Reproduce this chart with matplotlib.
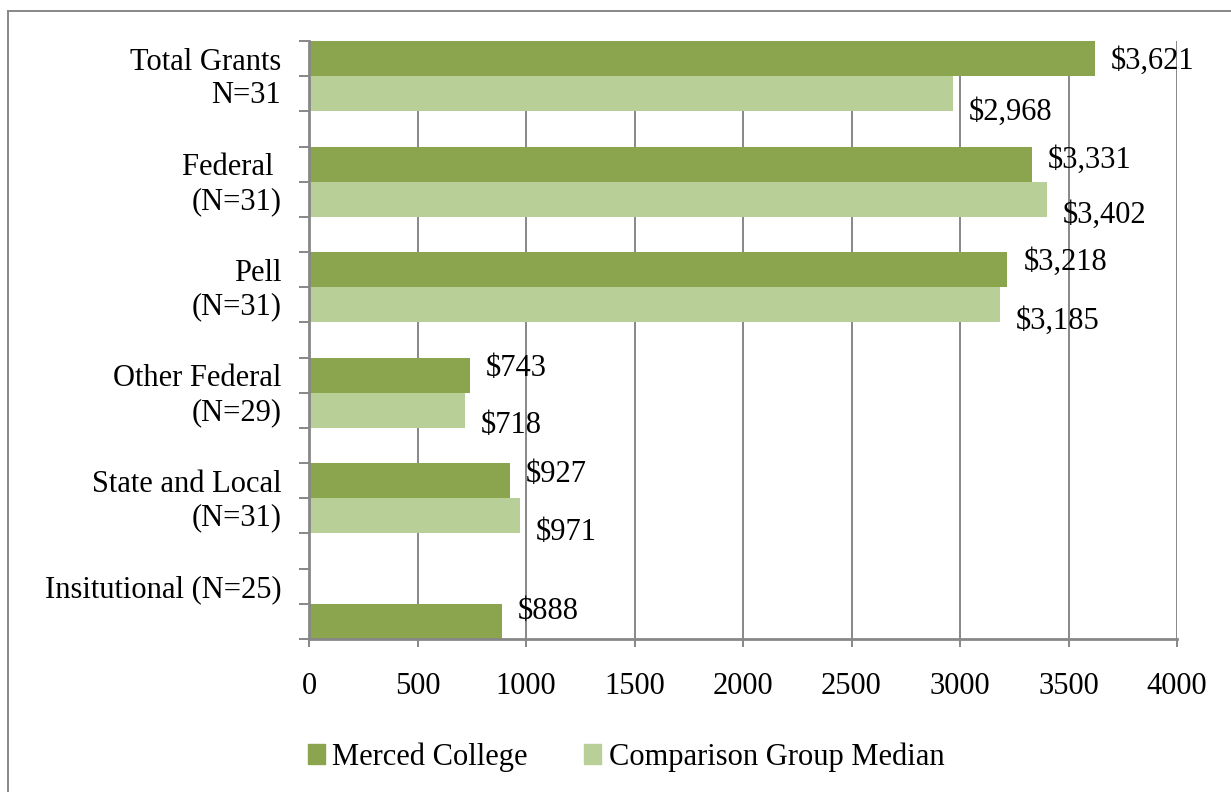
import matplotlib
matplotlib.use("Agg")
import matplotlib.pyplot as plt
from matplotlib.lines import Line2D

plt.rcParams['font.family'] = ['Liberation Serif', 'DejaVu Serif']

# data
categories = ['Total Grants\nN=31', 'Federal \n(N=31)', 'Pell\n(N=31)',
              'Other Federal\n(N=29)', 'State and Local\n(N=31)',
              'Insitutional (N=25)\n']
merced = [3621, 3331, 3218, 743, 927, 888]
comparison = [2968, 3402, 3185, 718, 971, None]
series_names = ['Merced College', 'Comparison Group Median']

# label nudges in pixels (down positive), as Excel placed them
merced_dy = [3, -4, -7, -7, -6, -10]
comp_dy = [19, 16, 17, 15, 17, None]

DARK = '#8AA54E'
LIGHT = '#B8CF97'
GRAY = '#878787'
FS = 22

W, H = 1231, 792
fig = plt.figure(figsize=(W / 100, H / 100), dpi=100)
x0, x1, yt, yb = 309, 1177, 41, 639
ax = fig.add_axes([x0 / W, 1 - yb / H, (x1 - x0) / W, (yb - yt) / H])

# every category takes 2 bar slots + 1 gap slot, last has no gap after it
n = len(categories)
nslots = 3 * n - 1
for i in range(n):
    top = 3 * i
    if comparison[i] is None:
        m_slot = top + 1  # Merced alone sits in the lower slot
    else:
        m_slot = top
        ax.barh(top + 1.5, comparison[i], height=1.0, color=LIGHT,
                edgecolor='none', zorder=3)
        ax.annotate('${:,.0f}'.format(comparison[i]),
                    xy=(comparison[i], top + 1.5), xytext=(16, -comp_dy[i]),
                    textcoords='offset pixels', ha='left', va='center',
                    fontsize=FS, zorder=5)
    ax.barh(m_slot + 0.5, merced[i], height=1.0, color=DARK,
            edgecolor='none', zorder=3)
    ax.annotate('${:,.0f}'.format(merced[i]),
                xy=(merced[i], m_slot + 0.5), xytext=(16, -merced_dy[i]),
                textcoords='offset pixels', ha='left', va='center',
                fontsize=FS, zorder=5)

ax.set_xlim(0, 4000)
ax.set_ylim(nslots, 0)
ax.set_xticks(range(0, 4001, 500))
ax.set_xticklabels([str(v) for v in range(0, 4001, 500)], fontsize=FS)
ax.xaxis.grid(True, color=GRAY, linewidth=1.4, zorder=0)

ax.yaxis.remove_overlapping_locs = False
ax.set_yticks(range(0, nslots + 1))
ax.set_yticklabels([])
ax.set_yticks([3 * i + 1 - 0.08 for i in range(n)], minor=True)
ax.set_yticklabels(categories, minor=True, fontsize=FS,
                   ha='right', multialignment='right')
ax.tick_params(axis='y', which='major', length=7, width=1.4, color=GRAY,
               direction='out')
ax.tick_params(axis='y', which='minor', length=0, pad=20)
ax.tick_params(axis='x', length=6, width=1.4, color=GRAY, pad=18)

for side in ['top', 'right']:
    ax.spines[side].set_visible(False)
for side in ['left', 'bottom']:
    ax.spines[side].set_color(GRAY)
    ax.spines[side].set_linewidth(2)
    ax.spines[side].set_zorder(4)

handles = [plt.Rectangle((0, 0), 1, 1, color=DARK),
           plt.Rectangle((0, 0), 1, 1, color=LIGHT)]
fig.legend(handles, series_names, loc='center', ncol=2,
           bbox_to_anchor=(626 / W, 1 - 757 / H), frameon=False,
           fontsize=FS, handlelength=0.55, handleheight=0.6,
           handletextpad=0.25, columnspacing=1.85)

# outer chart frame (only top and left edges visible)
fig.add_artist(Line2D([8 / W, 1], [1 - 11 / H, 1 - 11 / H], color=GRAY,
                      linewidth=1.4, transform=fig.transFigure))
fig.add_artist(Line2D([8 / W, 8 / W], [0, 1 - 11 / H], color=GRAY,
                      linewidth=1.4, transform=fig.transFigure))

fig.savefig('out.png', dpi=100)
